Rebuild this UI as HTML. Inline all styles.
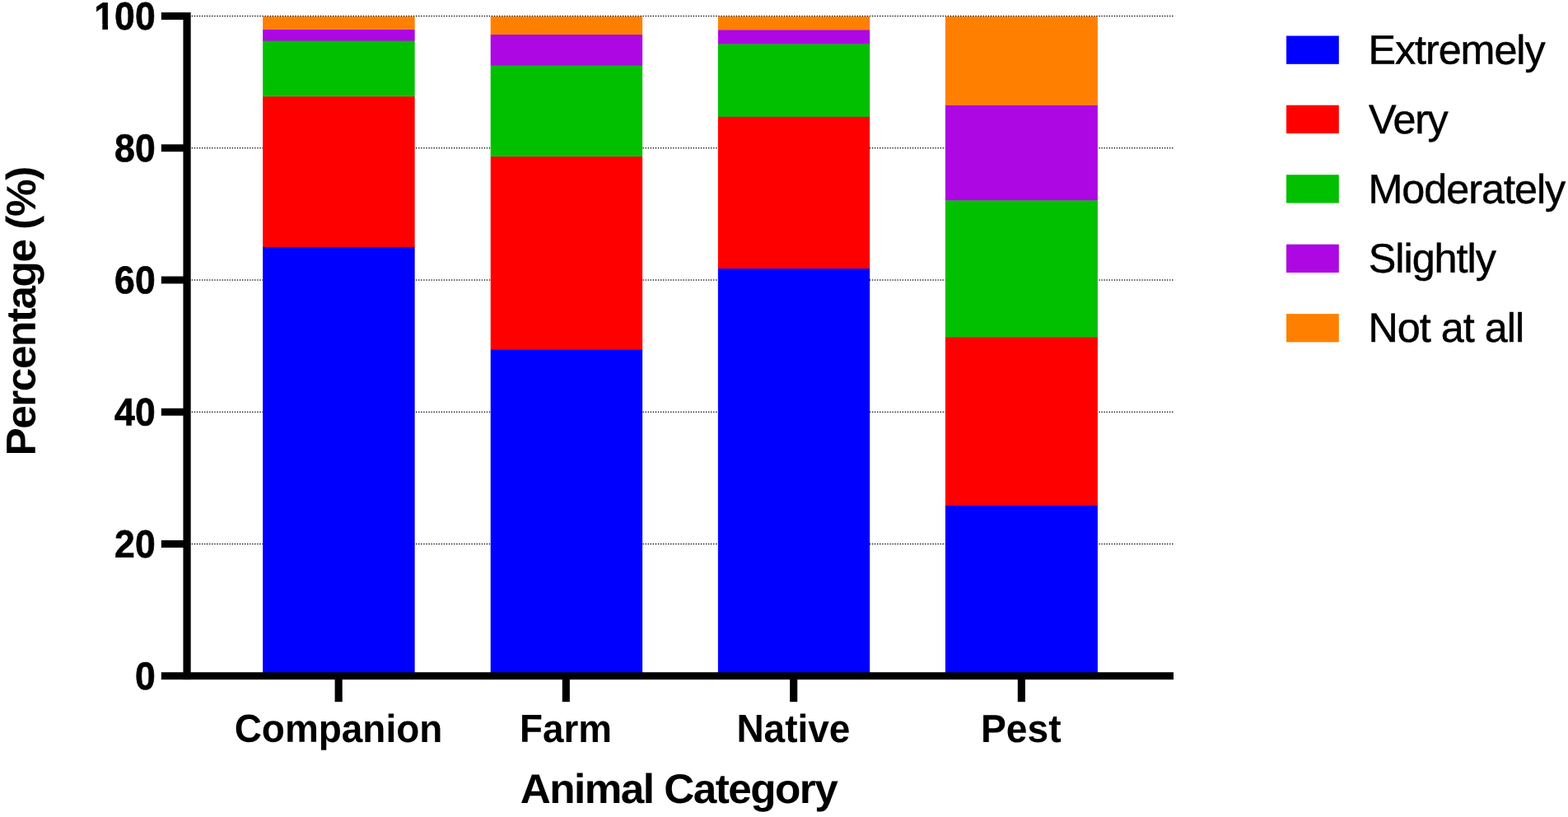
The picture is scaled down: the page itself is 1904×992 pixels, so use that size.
<!DOCTYPE html>
<html lang="en"><head><meta charset="utf-8"><title>Animal Category chart</title>
<style>
html,body{margin:0;padding:0;background:#fff;}
body{width:1904px;height:992px;overflow:hidden;}
svg{display:block;position:absolute;left:0;top:0;}
text{font-family:"Liberation Sans",sans-serif;fill:#000;}
.b{font-weight:700;}
.n{font-weight:400;}
</style></head><body>
<svg width="1904" height="992" viewBox="0 0 1904 992">
<defs><clipPath id="one" clipPathUnits="userSpaceOnUse"><path clip-rule="evenodd" d="M0 -20H260V60H0Z M112.21 29.00H124.35V38.84H112.21Z M131.04 29.00H140.24V38.84H131.04Z"/></clipPath></defs>
<rect x="0" y="0" width="1904" height="992" fill="#ffffff"/>
<g class="grid" stroke="#000" stroke-width="1.65" stroke-linecap="round" stroke-dasharray="0.01 3.05" fill="none">
<line x1="233.40" y1="660.46" x2="1424.60" y2="660.46"/>
<line x1="233.40" y1="500.22" x2="1424.60" y2="500.22"/>
<line x1="233.40" y1="339.98" x2="1424.60" y2="339.98"/>
<line x1="233.40" y1="179.74" x2="1424.60" y2="179.74"/>
<line x1="233.40" y1="19.50" x2="1424.60" y2="19.50"/>
</g>
<g class="bars">
<rect x="319.10" y="20.05" width="184.55" height="16.35" fill="#ff8000"/>
<rect x="319.10" y="36.00" width="184.55" height="14.00" fill="#ad07e3"/>
<rect x="319.10" y="49.60" width="184.55" height="68.00" fill="#00c000"/>
<rect x="319.10" y="117.20" width="184.55" height="183.10" fill="#ff0000"/>
<rect x="319.10" y="299.90" width="184.55" height="520.80" fill="#0000ff"/>
<rect x="595.70" y="20.05" width="184.40" height="22.35" fill="#ff8000"/>
<rect x="595.70" y="42.00" width="184.40" height="38.00" fill="#ad07e3"/>
<rect x="595.70" y="79.60" width="184.40" height="110.90" fill="#00c000"/>
<rect x="595.70" y="190.10" width="184.40" height="234.70" fill="#ff0000"/>
<rect x="595.70" y="424.40" width="184.40" height="396.30" fill="#0000ff"/>
<rect x="871.85" y="20.05" width="184.35" height="16.75" fill="#ff8000"/>
<rect x="871.85" y="36.40" width="184.35" height="17.45" fill="#ad07e3"/>
<rect x="871.85" y="53.45" width="184.35" height="88.75" fill="#00c000"/>
<rect x="871.85" y="141.80" width="184.35" height="184.65" fill="#ff0000"/>
<rect x="871.85" y="326.05" width="184.35" height="494.65" fill="#0000ff"/>
<rect x="1147.90" y="20.05" width="185.00" height="108.25" fill="#ff8000"/>
<rect x="1147.90" y="127.90" width="185.00" height="115.90" fill="#ad07e3"/>
<rect x="1147.90" y="243.40" width="185.00" height="166.35" fill="#00c000"/>
<rect x="1147.90" y="409.35" width="185.00" height="204.95" fill="#ff0000"/>
<rect x="1147.90" y="613.90" width="185.00" height="206.80" fill="#0000ff"/>
</g>
<g class="axes" fill="#000">
<rect x="222.45" y="15.05" width="9.20" height="810.10"/>
<rect x="195.85" y="816.25" width="1229.15" height="8.90"/>
<rect x="195.85" y="656.01" width="27.60" height="8.90"/>
<rect x="195.85" y="495.77" width="27.60" height="8.90"/>
<rect x="195.85" y="335.53" width="27.60" height="8.90"/>
<rect x="195.85" y="175.29" width="27.60" height="8.90"/>
<rect x="195.85" y="15.05" width="27.60" height="8.90"/>
<rect x="406.60" y="820.70" width="9.10" height="31.50"/>
<rect x="682.75" y="820.70" width="9.10" height="31.50"/>
<rect x="959.15" y="820.70" width="9.10" height="31.50"/>
<rect x="1235.80" y="820.70" width="9.10" height="31.50"/>
</g>
<g class="y-tick-labels">
<text class="b" font-size="47.17" text-anchor="end" stroke="#000" stroke-width="0.6" stroke-linejoin="round" transform="matrix(0.9464 0.0005 0 1 188.70 837.05)">0</text>
<text class="b" font-size="47.17" text-anchor="end" stroke="#000" stroke-width="0.6" stroke-linejoin="round" transform="matrix(0.9464 0.0005 0 1 188.70 676.81)">20</text>
<text class="b" font-size="47.17" text-anchor="end" stroke="#000" stroke-width="0.6" stroke-linejoin="round" transform="matrix(0.9464 0.0005 0 1 188.70 516.57)">40</text>
<text class="b" font-size="47.17" text-anchor="end" stroke="#000" stroke-width="0.6" stroke-linejoin="round" transform="matrix(0.9464 0.0005 0 1 188.70 356.33)">60</text>
<text class="b" font-size="47.17" text-anchor="end" stroke="#000" stroke-width="0.6" stroke-linejoin="round" transform="matrix(0.9464 0.0005 0 1 188.70 196.09)">80</text>
<g clip-path="url(#one)"><text class="b" font-size="47.17" text-anchor="end" stroke="#000" stroke-width="0.6" stroke-linejoin="round" transform="matrix(0.9464 0.0005 0 1 188.70 35.86)">100</text></g>
</g>
<g class="x-tick-labels">
<text class="b" font-size="47.5" transform="matrix(0.9674 0.0005 0 1 284.67 900.84)">Companion</text>
<text class="b" font-size="47.5" transform="matrix(0.9641 0.0005 0 1 630.97 900.87)">Farm</text>
<text class="b" font-size="47.5" transform="matrix(0.9680 0.0005 0 1 894.41 900.86)">Native</text>
<text class="b" font-size="47.5" transform="matrix(0.9731 0.0005 0 1 1191.04 900.88)">Pest</text>
</g>
<g class="axis-titles">
<text class="b" font-size="50.3" letter-spacing="-1.510" transform="matrix(1.0200 0.0005 0 1 631.73 974.91)">Animal Category</text>
<text class="b" font-size="50.3" letter-spacing="-1.422" transform="translate(42.81 553.52) rotate(-90) matrix(1.0200 0.0005 0 1 0 0)">Percentage (%)</text>
</g>
<g class="legend">
<rect x="1562.00" y="43.50" width="63.80" height="34.30" fill="#0000ff"/>
<text class="n" font-size="49.8" letter-spacing="-1.043" stroke="#000" stroke-width="0.5" stroke-linejoin="round" transform="matrix(1.0100 0.0005 0 1 1661.51 77.55)">Extremely</text>
<rect x="1562.00" y="127.70" width="63.80" height="34.30" fill="#ff0000"/>
<text class="n" font-size="49.8" letter-spacing="-1.336" stroke="#000" stroke-width="0.5" stroke-linejoin="round" transform="matrix(1.0100 0.0005 0 1 1662.10 161.98)">Very</text>
<rect x="1562.00" y="212.20" width="63.80" height="34.30" fill="#00c000"/>
<text class="n" font-size="49.8" letter-spacing="-0.977" stroke="#000" stroke-width="0.5" stroke-linejoin="round" transform="matrix(1.0100 0.0005 0 1 1661.41 246.59)">Moderately</text>
<rect x="1562.00" y="296.70" width="63.80" height="34.30" fill="#ad07e3"/>
<text class="n" font-size="49.8" letter-spacing="-1.002" stroke="#000" stroke-width="0.5" stroke-linejoin="round" transform="matrix(1.0100 0.0005 0 1 1661.83 330.76)">Slightly</text>
<rect x="1562.00" y="381.10" width="63.80" height="34.30" fill="#ff8000"/>
<text class="n" font-size="49.8" letter-spacing="-0.962" stroke="#000" stroke-width="0.5" stroke-linejoin="round" transform="matrix(1.0100 0.0005 0 1 1661.41 414.95)">Not at all</text>
</g>
</svg>
</body></html>
